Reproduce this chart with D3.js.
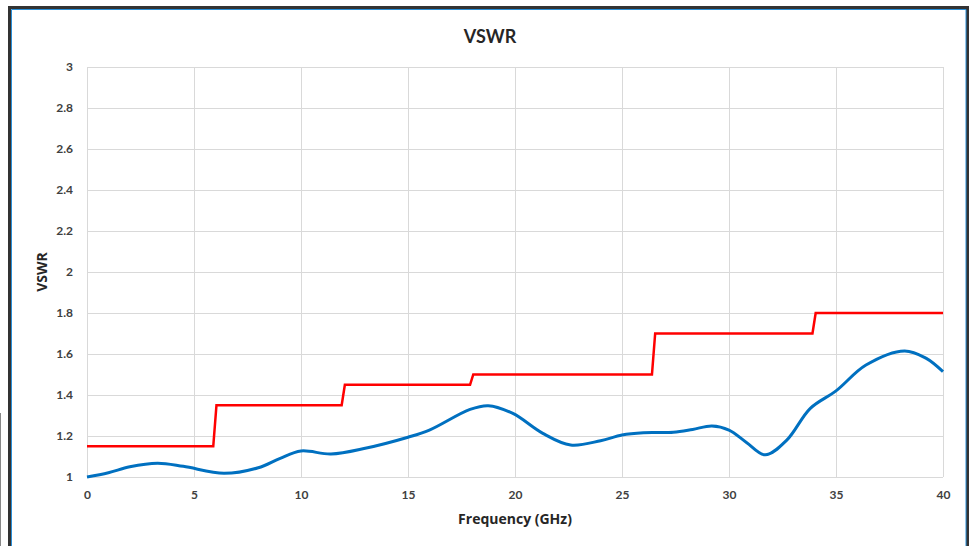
<!DOCTYPE html>
<html>
<head>
<meta charset="utf-8">
<script src="https://cdn.jsdelivr.net/npm/d3@7"></script>
<style>
  body { margin: 0; background: #fff; }
  svg { display: block; font-family: Lato, "Open Sans", sans-serif; }
</style>
</head>
<body>
<script>
// VSWR measured curve (GHz, ratio)
const measFreq = [0, 1, 2, 3.3, 4.5, 6.4, 8, 9, 10, 11.4, 13, 15, 16, 17.9, 18.75, 19.9, 21.3, 22.6, 24, 25, 26, 27.4, 28.3, 29.2, 30, 30.8, 31.7, 32.7, 33.8, 35, 36.4, 38.2, 39.2, 40];
const measVswr = [1.0, 1.021, 1.05, 1.067, 1.052, 1.018, 1.045, 1.09, 1.127, 1.112, 1.14, 1.194, 1.229, 1.33, 1.348, 1.31, 1.213, 1.156, 1.177, 1.205, 1.216, 1.218, 1.232, 1.249, 1.229, 1.17, 1.108, 1.18, 1.335, 1.42, 1.546, 1.615, 1.58, 1.514];

// spec limit (step line)
const limitFreq = [0, 5.9, 6.05, 11.9, 12.05, 17.9, 18.05, 26.4, 26.55, 33.9, 34.05, 40];
const limitVswr = [1.15, 1.15, 1.35, 1.35, 1.45, 1.45, 1.5, 1.5, 1.7, 1.7, 1.8, 1.8];

const xTicks = [0, 5, 10, 15, 20, 25, 30, 35, 40];
const yTicks = [1, 1.2, 1.4, 1.6, 1.8, 2, 2.2, 2.4, 2.6, 2.8, 3];

const W = 971, H = 546;
const plot = { left: 87, right: 943, top: 67, bottom: 477 };

const svg = d3.select('body').append('svg')
  .attr('width', W)
  .attr('height', H);

// outer frame
svg.append('line').attr('x1', 0.5).attr('x2', 0.5).attr('y1', 413).attr('y2', H)
  .attr('stroke', '#888').attr('stroke-width', 1);
svg.append('path')
  .attr('d', `M9.5,${H} V7.5 H967.5 V${H}`)
  .attr('fill', 'none').attr('stroke', '#333').attr('stroke-width', 3);
svg.append('path')
  .attr('d', `M11.5,${H} V9.5 H966 V${H}`)
  .attr('fill', 'none').attr('stroke', '#2a8fd8').attr('stroke-width', 1);

const x = d3.scaleLinear().domain([0, 40]).range([plot.left, plot.right]);
const y = d3.scaleLinear().domain([1, 3]).range([plot.bottom, plot.top]);

// grid
const grid = svg.append('g');
grid.selectAll('.gx').data(xTicks).enter().append('line')
  .attr('x1', d => Math.round(x(d)) + 0.5).attr('x2', d => Math.round(x(d)) + 0.5)
  .attr('y1', plot.top).attr('y2', plot.bottom)
  .attr('stroke', '#d9d9d9').attr('stroke-width', 1);
grid.selectAll('.gy').data(yTicks).enter().append('line')
  .attr('x1', plot.left).attr('x2', plot.right)
  .attr('y1', d => Math.round(y(d)) + 0.5).attr('y2', d => Math.round(y(d)) + 0.5)
  .attr('stroke', '#d9d9d9').attr('stroke-width', 1);

// axes (labels only)
const xAxis = svg.append('g')
  .attr('transform', `translate(0, ${plot.bottom})`)
  .call(d3.axisBottom(x).tickValues(xTicks).tickSize(0).tickPadding(13).tickFormat(d3.format('d')));
const yAxis = svg.append('g')
  .attr('transform', `translate(${plot.left}, 0)`)
  .call(d3.axisLeft(y).tickValues(yTicks).tickSize(0).tickPadding(14).tickFormat(d => +d.toFixed(1)));
[xAxis, yAxis].forEach(a => {
  a.select('.domain').remove();
  a.selectAll('text')
    .attr('font-family', 'Lato, "Open Sans", sans-serif')
    .attr('font-size', 12).attr('font-weight', 700).attr('fill', '#404040');
});

// lines
const limitData = limitFreq.map((f, i) => [f, limitVswr[i]]);
const measData = measFreq.map((f, i) => [f, measVswr[i]]);

svg.append('path').datum(limitData)
  .attr('fill', 'none').attr('stroke', '#ff0000').attr('stroke-width', 2.5)
  .attr('d', d3.line().x(d => x(d[0])).y(d => y(d[1])));

svg.append('path').datum(measData)
  .attr('fill', 'none').attr('stroke', '#0070c0').attr('stroke-width', 3)
  .attr('stroke-linejoin', 'round')
  .attr('d', d3.line().curve(d3.curveCatmullRom.alpha(0.5)).x(d => x(d[0])).y(d => y(d[1])));

// titles
svg.append('text')
  .attr('x', 490).attr('y', 43)
  .attr('text-anchor', 'middle')
  .attr('font-size', 18).attr('font-weight', 700).attr('fill', '#262626')
  .text('VSWR');

svg.append('text')
  .attr('transform', `translate(47, ${(plot.top + plot.bottom) / 2}) rotate(-90)`)
  .attr('text-anchor', 'middle')
  .attr('font-family', '"Open Sans", Lato, sans-serif')
  .attr('font-size', 14).attr('font-weight', 700).attr('fill', '#262626')
  .text('VSWR');

svg.append('text')
  .attr('x', (plot.left + plot.right) / 2).attr('y', 524)
  .attr('text-anchor', 'middle')
  .attr('font-family', '"Open Sans", Lato, sans-serif')
  .attr('font-size', 14).attr('font-weight', 700).attr('fill', '#262626')
  .text('Frequency (GHz)');
</script>
</body>
</html>
